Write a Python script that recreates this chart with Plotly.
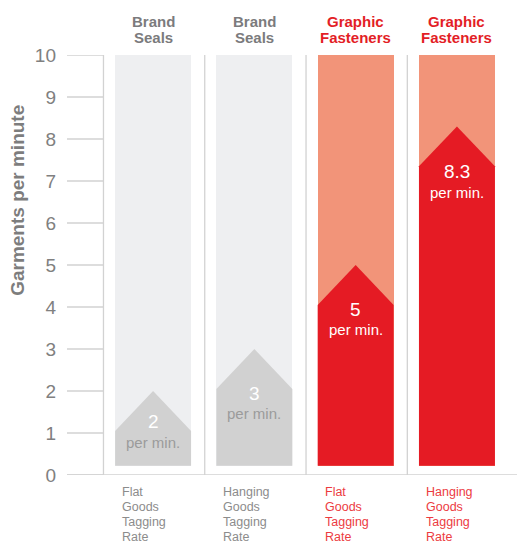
import plotly.graph_objects as go

# ---- data ----
groups = ["Brand<br>Seals", "Brand<br>Seals", "Graphic<br>Fasteners", "Graphic<br>Fasteners"]
rate_labels = ["Flat Goods Tagging Rate", "Hanging Goods Tagging Rate",
               "Flat Goods Tagging Rate", "Hanging Goods Tagging Rate"]
values = [2, 3, 5, 8.3]
value_text = ["2", "3", "5", "8.3"]
y_ticks = list(range(0, 11))
y_title = "Garments per minute"
unit_text = "per min."

# ---- style ----
FONT = "Liberation Sans"
BG_COL = ["#eeeff1", "#eeeff1", "#f29479", "#f29479"]
ARROW_COL = ["#d1d1d1", "#d1d1d1", "#e51b24", "#e51b24"]
HEAD_COL = ["#7b7b7d", "#7b7b7d", "#e31e26", "#e31e26"]
FOOT_COL = ["#8c8c8c", "#8c8c8c", "#ec3b3f", "#ec3b3f"]
NUM_COL = ["#ffffff", "#ffffff", "#ffffff", "#ffffff"]
UNIT_COL = ["#9b9b9b", "#9b9b9b", "#ffffff", "#ffffff"]
NUM_OFF = [0.73, 1.05, 1.05, 1.08]
BAR_W = 0.75
BASE = 0.22
SHOULDER = 0.95
XR = [-0.85, 3.593]
LINE = "#d2d2d2"

W, H = 517, 542
ML, MR, MT, MB = 67, 0, 55, 67

x = list(range(len(values)))
fig = go.Figure()

fig.add_trace(go.Bar(x=x, y=[10 - BASE] * len(x), base=BASE, width=BAR_W,
                     marker=dict(color=BG_COL, line=dict(width=0)),
                     hoverinfo="skip", showlegend=False))

for i, v in enumerate(values):
    l, r = i - BAR_W / 2, i + BAR_W / 2
    fig.add_trace(go.Scatter(
        x=[l, l, i, r, r, l],
        y=[BASE, v - SHOULDER, v, v - SHOULDER, BASE, BASE],
        mode="lines", fill="toself", fillcolor=ARROW_COL[i],
        line=dict(width=0, color=ARROW_COL[i]),
        hoverinfo="skip", showlegend=False))

shapes = []
for t in y_ticks:
    shapes.append(dict(type="line", xref="x", yref="y", x0=XR[0], x1=-0.49,
                       y0=t, y1=t, line=dict(color=LINE, width=1.3)))
for i in range(len(values)):
    shapes.append(dict(type="line", xref="x", yref="y", x0=i - 0.49, x1=i - 0.49,
                       y0=0, y1=10, line=dict(color=LINE, width=1.3)))
shapes.append(dict(type="line", xref="paper", yref="y", x0=0, x1=1, y0=0, y1=0,
                   line=dict(color=LINE, width=1.5)))

ann = []
for i, v in enumerate(values):
    ny = v - NUM_OFF[i]
    ann.append(dict(x=i, y=ny, xref="x", yref="y", text=value_text[i], showarrow=False,
                    font=dict(family=FONT, size=19, color=NUM_COL[i])))
    ann.append(dict(x=i, y=ny - 0.49, xref="x", yref="y", text=unit_text, showarrow=False,
                    font=dict(family=FONT, size=15, color=UNIT_COL[i])))
    for k, line in enumerate(groups[i].split("<br>")):
        ann.append(dict(x=i, y=10, xref="x", yref="y", text="<b>" + line + "</b>",
                        showarrow=False, yanchor="middle", yshift=34 - 16 * k,
                        font=dict(family=FONT, size=15, color=HEAD_COL[i])))
    for k, word in enumerate(rate_labels[i].split(" ")):
        ann.append(dict(x=i - BAR_W / 2 + 0.05, y=0, xref="x", yref="y", text=word,
                        showarrow=False, xanchor="left", yanchor="middle",
                        yshift=-17 - 15 * k,
                        font=dict(family=FONT, size=12.5, color=FOOT_COL[i])))

ann.append(dict(x=-0.109, y=0.655, xref="paper", yref="paper", text="<b>" + y_title + "</b>",
                textangle=-90, showarrow=False, xanchor="center", yanchor="middle",
                font=dict(family=FONT, size=19, color="#7d7d7d")))

fig.update_layout(
    width=W, height=H, margin=dict(l=ML, r=MR, t=MT, b=MB),
    paper_bgcolor="white", plot_bgcolor="white",
    shapes=shapes, annotations=ann, bargap=0,
    xaxis=dict(range=XR, showgrid=False, zeroline=False, showticklabels=False,
               showline=False, fixedrange=True),
    yaxis=dict(range=[0, 10], tickvals=y_ticks, showgrid=False, zeroline=False,
               showline=False, ticks="", ticklabelstandoff=10,
               tickfont=dict(family=FONT, size=19, color="#808080"), fixedrange=True),
)

fig.write_html("out.html", config={"displayModeBar": False},
               post_script="document.body.style.margin='0px';document.body.style.overflow='hidden';")
